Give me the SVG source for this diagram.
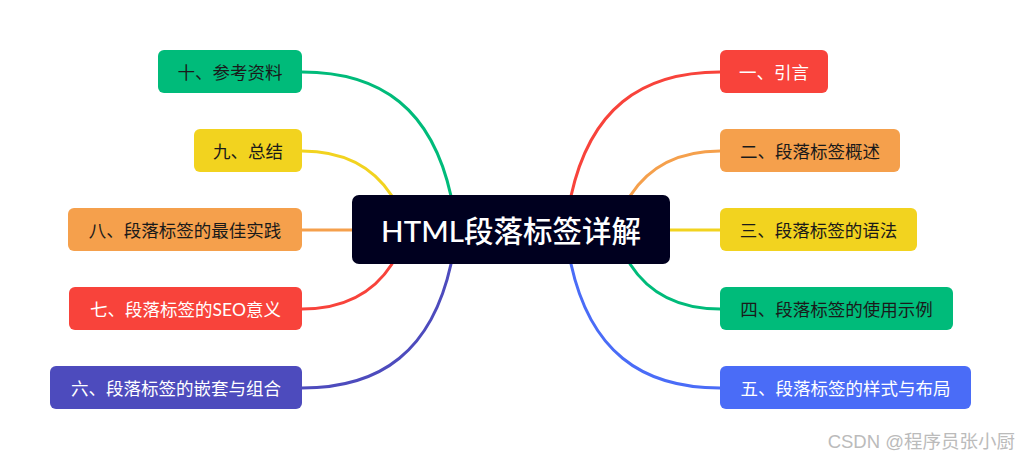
<svg xmlns="http://www.w3.org/2000/svg" width="1022" height="460" viewBox="0 0 1022 460">
<style>
.t{font-family:Lato,"Noto Sans CJK SC",sans-serif;font-size:17.5px;text-anchor:middle;dominant-baseline:central}
.d{fill:#1a1a1a}.w{fill:#ffffff}
.c{fill:none;stroke-width:3;stroke-linecap:round}
</style>
<rect width="1022" height="460" fill="#ffffff"/>
<g id="connectors">
<path class="c" stroke="#f8433b" d="M571,196 C590,110 640,72 720,72"/>
<path class="c" stroke="#f5a04c" d="M630,196 C650,165 680,151 720,151"/>
<path class="c" stroke="#f2d31f" d="M670,230 L720,230"/>
<path class="c" stroke="#00bb7a" d="M630,264 C650,295 680,309 720,309"/>
<path class="c" stroke="#4a6cf7" d="M571,264 C590,350 640,388 720,388"/>
<path class="c" stroke="#00bb7a" d="M451,196 C432,110 382,72 302,72"/>
<path class="c" stroke="#f2d31f" d="M392,196 C372,165 342,151 302,151"/>
<path class="c" stroke="#f5a04c" d="M352,230 L302,230"/>
<path class="c" stroke="#f8433b" d="M392,264 C372,295 342,309 302,309"/>
<path class="c" stroke="#4d4bbd" d="M451,264 C432,350 382,388 302,388"/>
</g>
<g id="center">
<rect x="352" y="195" width="318" height="69" rx="7" fill="#00001f"/>
<text x="511" y="230" class="t w" style="font-size:29.5px;font-weight:500">HTML段落标签详解</text>
</g>
<g id="n1"><rect x="720" y="50" width="108" height="43" rx="6" fill="#f8433b"/><text x="774" y="72" class="t w">一、引言</text></g>
<g id="n2"><rect x="720" y="129" width="180" height="43" rx="6" fill="#f5a04c"/><text x="810" y="151" class="t d">二、段落标签概述</text></g>
<g id="n3"><rect x="720" y="208" width="197" height="43" rx="6" fill="#f2d31f"/><text x="818.5" y="230" class="t d">三、段落标签的语法</text></g>
<g id="n4"><rect x="720" y="287" width="233" height="43" rx="6" fill="#00bb7a"/><text x="836.5" y="309" class="t d">四、段落标签的使用示例</text></g>
<g id="n5"><rect x="720" y="366" width="251" height="43" rx="6" fill="#4a6cf7"/><text x="845.5" y="388" class="t w">五、段落标签的样式与布局</text></g>
<g id="n10"><rect x="158" y="50" width="144" height="43" rx="6" fill="#00bb7a"/><text x="230" y="72" class="t d">十、参考资料</text></g>
<g id="n9"><rect x="194" y="129" width="108" height="43" rx="6" fill="#f2d31f"/><text x="248" y="151" class="t d">九、总结</text></g>
<g id="n8"><rect x="68" y="208" width="234" height="43" rx="6" fill="#f5a04c"/><text x="185" y="230" class="t d">八、段落标签的最佳实践</text></g>
<g id="n7"><rect x="69" y="287" width="233" height="43" rx="6" fill="#f8433b"/><text x="185.5" y="309" class="t w">七、段落标签的SEO意义</text></g>
<g id="n6"><rect x="50" y="366" width="252" height="43" rx="6" fill="#4d4bbd"/><text x="176" y="388" class="t w">六、段落标签的嵌套与组合</text></g>
<text x="1015" y="441" style="font-family:'Liberation Sans','Noto Sans CJK SC',sans-serif;font-size:18.5px;text-anchor:end;dominant-baseline:central;fill:#bbbbbb">CSDN @程序员张小厨</text>
</svg>
